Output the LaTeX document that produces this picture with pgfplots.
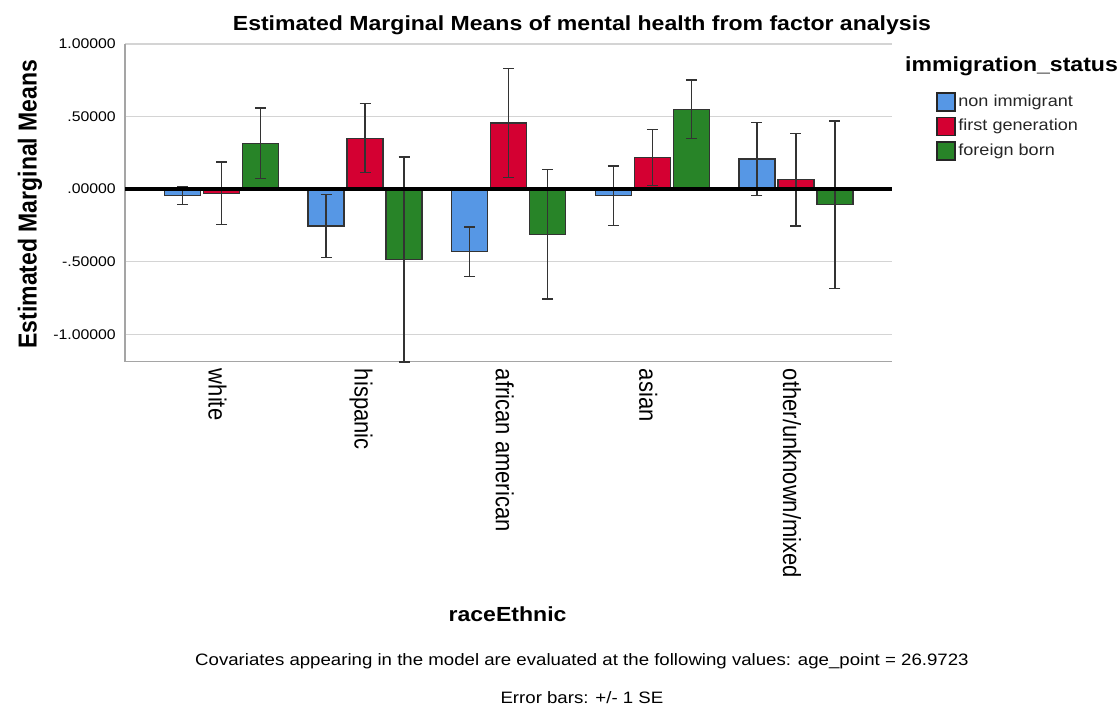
\documentclass[border=0pt]{standalone}
\usepackage{fontspec}
\setmainfont{Liberation Sans}
\newfontfamily\hfont[FakeStretch=1.13]{Liberation Sans}
\usepackage{graphicx}
\usepackage{pgfplots}
\usepackage{pgfplotstable}
\pgfplotsset{compat=1.18}
\definecolor{cblue}{RGB}{86,151,229}
\definecolor{cred}{RGB}{212,0,50}
\definecolor{cgreen}{RGB}{40,132,40}
\definecolor{gridgray}{RGB}{212,212,212}
\definecolor{axgray}{RGB}{165,165,165}
\newcommand{\vs}[1]{\scalebox{1}[1.13]{#1}}

\pgfplotstableread{
x y e
0 -0.046 0.060
1 -0.253 0.218
2 -0.430 0.170
3 -0.045 0.204
4 0.207 0.250
}\tblue
\pgfplotstableread{
x y e
0 -0.029 0.215
1 0.351 0.237
2 0.455 0.377
3 0.216 0.193
4 0.065 0.318
}\tred
\pgfplotstableread{
x y e
0 0.315 0.244
1 -0.485 0.706
2 -0.312 0.445
3 0.550 0.201
4 -0.108 0.578
}\tgreen

\begin{document}
\begin{tikzpicture}
\begin{axis}[
  scale only axis, width=766.7pt, height=317.7pt,
  xmin=-0.672, xmax=4.667, ymin=-1.189, ymax=1,
  ybar=3pt, bar width=36pt,
  axis lines*=left,
  axis line style={axgray, line width=1.5pt},
  ytick={-1,-0.5,0,0.5,1},
  yticklabels={-1.00000,-.50000,.00000,.50000,1.00000},
  xtick={0,1,2,3,4},
  xticklabels={\vs{white},\vs{hispanic},\vs{african american},\vs{asian},\vs{other/unknown/mixed}},
  major tick length=0pt,
  ymajorgrids, major grid style={gridgray, line width=1.5pt},
  /pgf/number format/assume math mode=true,
  yticklabel style={font=\hfont\fontsize{14}{17}\selectfont, inner sep=0pt, anchor=east, xshift=-9pt},
  xticklabel style={font=\fontsize{22}{26}\selectfont, xshift=-4pt, rotate=-90, anchor=west, inner sep=0pt},
  xticklabel shift=7pt,
  title={Estimated Marginal Means of mental health from factor analysis},
  title style={font=\hfont\fontsize{20.4}{24}\selectfont\bfseries, at={(axis description cs:0.596,1.041)}, anchor=center, inner sep=0pt},
  ylabel={\vs{Estimated Marginal Means}},
  ylabel style={font=\fontsize{23}{27}\selectfont\bfseries, at={(axis description cs:-0.1239,0.496)}, anchor=center, inner sep=0pt},
  xlabel={raceEthnic},
  xlabel style={font=\hfont\fontsize{20.4}{24}\selectfont\bfseries, at={(axis description cs:0.499,-0.794)}, anchor=center, inner sep=0pt},
  clip=false,
  legend style={at={(axis description cs:1.058,0.857)}, anchor=north west, draw=none, fill=none,
    font=\hfont\fontsize{16}{19}\selectfont, row sep=0pt, inner sep=0pt,
    nodes={inner xsep=2.5pt, inner ysep=3.75pt, text height=13pt, text depth=4pt, text=black!85}},
  legend cell align=left,
  legend image code/.code={\draw[#1, draw=black!85, line width=1.5pt] (0pt,-9pt) rectangle (18pt,9pt);},
  error bars/error bar style={black!80, line width=1.3pt},
  error bars/error mark options={black!80, rotate=90, mark size=5.5pt, line width=1.3pt},
]
\addplot[fill=cblue, draw=black!80, line width=1.3pt,
  error bars/.cd, y dir=both, y explicit] table[x=x, y=y, y error=e] {\tblue};
\addlegendentry{non immigrant}
\addplot[fill=cred, draw=black!80, line width=1.3pt,
  error bars/.cd, y dir=both, y explicit] table[x=x, y=y, y error=e] {\tred};
\addlegendentry{first generation}
\addplot[fill=cgreen, draw=black!80, line width=1.3pt,
  error bars/.cd, y dir=both, y explicit] table[x=x, y=y, y error=e] {\tgreen};
\addlegendentry{foreign born}
\draw[black, line width=3.4pt] (axis cs:-0.672,0) -- (axis cs:4.667,0);
\node[font=\hfont\fontsize{20.4}{24}\selectfont\bfseries, anchor=west, inner sep=0pt] at (axis description cs:1.0174,0.929) {immigration\_status};
\node[font=\hfont\fontsize{16.5}{20}\selectfont, anchor=center, inner sep=0pt] at (axis description cs:0.596,-0.942)
  {Covariates appearing in the model are evaluated at the following values: age\_point = 26.9723};
\node[font=\hfont\fontsize{16.5}{20}\selectfont, anchor=center, inner sep=0pt] at (axis description cs:0.596,-1.056)
  {Error bars: +/- 1 SE};
\coordinate (BL) at (axis description cs:-0.16304,-1.09003);
\coordinate (TR) at (axis description cs:1.29647,1.13850);
\end{axis}
\path[use as bounding box] (BL) rectangle (TR);
\end{tikzpicture}
\end{document}
